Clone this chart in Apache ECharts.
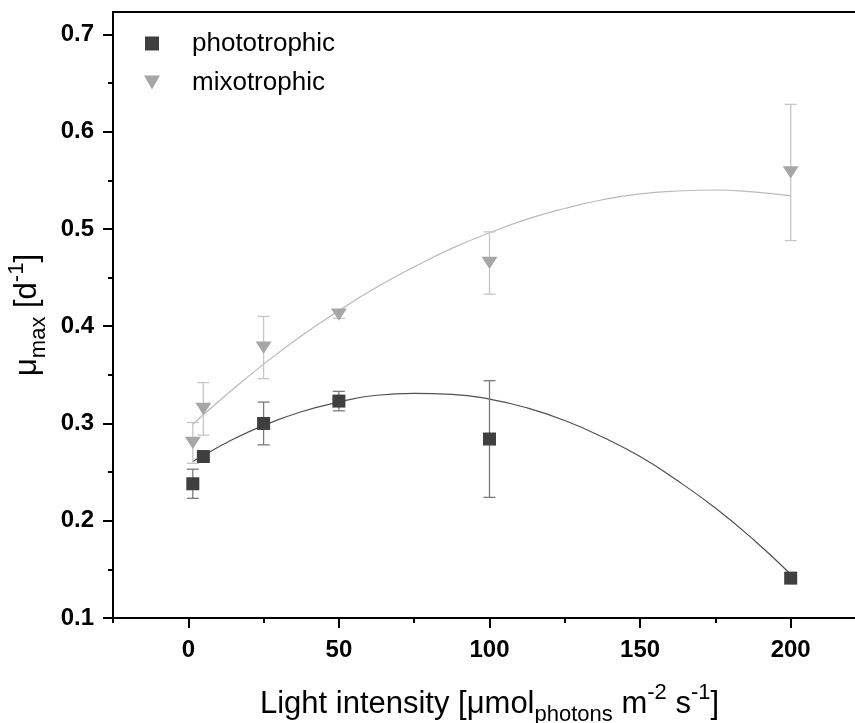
<!DOCTYPE html>
<html>
<head>
<meta charset="utf-8">
<script src="https://cdn.jsdelivr.net/npm/echarts@6.0.0/dist/echarts.min.js"></script>
<style>
  html, body { margin: 0; padding: 0; background: #fff; }
  #growth_chart { width: 855px; height: 723px; }
</style>
</head>
<body>
<div id="growth_chart"></div>
<script>
// light intensity and max growth rate
var lightLevels = [1.5, 5, 25, 50, 100, 200];
var photoMu  = [0.238, 0.266, 0.300, 0.323, 0.284, 0.141];
var photoErr = [0.015, 0.004, 0.022, 0.010, 0.060, 0.004];
var mixoMu   = [0.280, 0.315, 0.378, 0.412, 0.465, 0.558];
var mixoErr  = [0.021, 0.027, 0.032, 0.004, 0.032, 0.070];

// fitted curves
var fitX     = [1.5, 5, 12.5, 25, 37.5, 50, 62.5, 75, 87.5, 100, 112.5, 125, 137.5, 150, 162.5, 175, 187.5, 200];
var photoFit = [0.261, 0.267, 0.280, 0.298, 0.312, 0.322, 0.329, 0.331, 0.330, 0.325, 0.316, 0.303, 0.286, 0.266, 0.241, 0.213, 0.181, 0.145];
var mixoFit  = [0.299, 0.309, 0.329, 0.361, 0.390, 0.416, 0.440, 0.461, 0.480, 0.496, 0.510, 0.521, 0.530, 0.536, 0.539, 0.540, 0.538, 0.534];

// tick positions
var xMajor = [0, 50, 100, 150, 200];
var xMinor = [-25, 25, 75, 125, 175];
var yMajor = [0.1, 0.2, 0.3, 0.4, 0.5, 0.6, 0.7];
var yMinor = [0.15, 0.25, 0.35, 0.45, 0.55, 0.65];

var FONT = 'Liberation Sans, Arial, sans-serif';

function pairs(xs, ys) {
    var out = [];
    for (var i = 0; i < xs.length; i++) out.push([xs[i], ys[i]]);
    return out;
}
function errRows(xs, ys, es) {
    var out = [];
    for (var i = 0; i < xs.length; i++) out.push([xs[i], ys[i] - es[i], ys[i] + es[i]]);
    return out;
}
// error bar: vertical line with caps
function errBar(color) {
    return function (params, api) {
        var x = api.value(0);
        var lo = api.coord([x, api.value(1)]);
        var hi = api.coord([x, api.value(2)]);
        var w = 6;
        var st = { stroke: color, lineWidth: 1.3 };
        return {
            type: 'group',
            children: [
                { type: 'line', shape: { x1: lo[0], y1: lo[1], x2: hi[0], y2: hi[1] }, style: st },
                { type: 'line', shape: { x1: lo[0] - w, y1: lo[1], x2: lo[0] + w, y2: lo[1] }, style: st },
                { type: 'line', shape: { x1: hi[0] - w, y1: hi[1], x2: hi[0] + w, y2: hi[1] }, style: st }
            ]
        };
    };
}

var nameRich = {
    n:   { fontFamily: FONT, fontSize: 31, lineHeight: 44, color: '#000' },
    sub: { fontFamily: FONT, fontSize: 22, lineHeight: 22, verticalAlign: 'bottom', color: '#000' },
    sup: { fontFamily: FONT, fontSize: 22, lineHeight: 22, verticalAlign: 'top', color: '#000' }
};

var growth_chart = echarts.init(document.getElementById('growth_chart'));
var option = {
    backgroundColor: '#fff',
    animation: false,
    grid: {
        left: 113, top: 12, width: 753, bottom: 105,
        outerBoundsMode: 'none',
        show: true, borderColor: '#000', borderWidth: 2
    },
    legend: {
        left: 139, top: 24,
        orient: 'vertical',
        itemWidth: 16, itemHeight: 14, itemGap: 10,
        textStyle: { fontFamily: FONT, fontSize: 26, color: '#000', lineHeight: 29, padding: [0, 0, 0, 27] },
        data: [
            { name: 'phototrophic', icon: 'path://M0,0 L13,0 L13,13 L0,13 Z' },
            { name: 'mixotrophic', icon: 'path://M0,0 L16,0 L8,14 Z' }
        ]
    },
    xAxis: [
        {
            type: 'value', min: -25, max: 225, position: 'bottom',
            name: '{n|Light intensity [μmol}{sub|photons}{n| m}{sup|-2}{n| s}{sup|-1}{n|]}',
            nameLocation: 'middle', nameGap: 64,
            nameTextStyle: { rich: nameRich },
            axisLine: { show: true, onZero: false, lineStyle: { color: '#000', width: 2 } },
            axisTick: { show: true, length: 10, customValues: xMajor, lineStyle: { color: '#000', width: 2 } },
            axisLabel: { customValues: xMajor, margin: 20, fontFamily: FONT, fontSize: 24, fontWeight: 'bold', color: '#000' },
            splitLine: { show: false }
        },
        {
            type: 'value', min: -25, max: 225, position: 'bottom',
            axisLine: { show: false, onZero: false },
            axisTick: { show: true, length: 5, customValues: xMinor, lineStyle: { color: '#000', width: 2 } },
            axisLabel: { show: false },
            splitLine: { show: false }
        }
    ],
    yAxis: [
        {
            type: 'value', min: 0.1, max: 0.723, position: 'left',
            name: '{n|μ}{sub|max}{n| [d}{sup|-1}{n|]}',
            nameLocation: 'middle', nameGap: 62, nameRotate: 90,
            nameTextStyle: { rich: nameRich },
            axisLine: { show: true, onZero: false, lineStyle: { color: '#000', width: 2 } },
            axisTick: { show: true, length: 10, customValues: yMajor, lineStyle: { color: '#000', width: 2 } },
            axisLabel: {
                customValues: yMajor, margin: 19,
                fontFamily: FONT, fontSize: 24, fontWeight: 'bold', color: '#000',
                formatter: function (v) { return v.toFixed(1); }
            },
            splitLine: { show: false }
        },
        {
            type: 'value', min: 0.1, max: 0.723, position: 'left',
            axisLine: { show: false, onZero: false },
            axisTick: { show: true, length: 5, customValues: yMinor, lineStyle: { color: '#000', width: 2 } },
            axisLabel: { show: false },
            splitLine: { show: false }
        }
    ],
    series: [
        {
            name: 'phototrophic fit', type: 'line', smooth: true, showSymbol: false, z: 2,
            data: pairs(fitX, photoFit),
            lineStyle: { color: '#505050', width: 1.2 }
        },
        {
            name: 'mixotrophic fit', type: 'line', smooth: true, showSymbol: false, z: 2,
            data: pairs(fitX, mixoFit),
            lineStyle: { color: '#bababa', width: 1.2 }
        },
        {
            name: 'phototrophic err', type: 'custom', z: 3,
            renderItem: errBar('#7a7a7a'),
            data: errRows(lightLevels, photoMu, photoErr)
        },
        {
            name: 'mixotrophic err', type: 'custom', z: 3,
            renderItem: errBar('#c6c6c6'),
            data: errRows(lightLevels, mixoMu, mixoErr)
        },
        {
            name: 'phototrophic', type: 'scatter', z: 5,
            symbol: 'rect', symbolSize: 13, symbolKeepAspect: true,
            itemStyle: { color: '#3f3f3f', opacity: 1 },
            data: pairs(lightLevels, photoMu)
        },
        {
            name: 'mixotrophic', type: 'scatter', z: 5,
            symbol: 'path://M0,0 L16,0 L8,14 Z', symbolSize: [16, 14], symbolKeepAspect: true,
            itemStyle: { color: '#a6a6a6', opacity: 1 },
            data: pairs(lightLevels, mixoMu)
        }
    ]
};

growth_chart.setOption(option);
</script>
</body>
</html>
